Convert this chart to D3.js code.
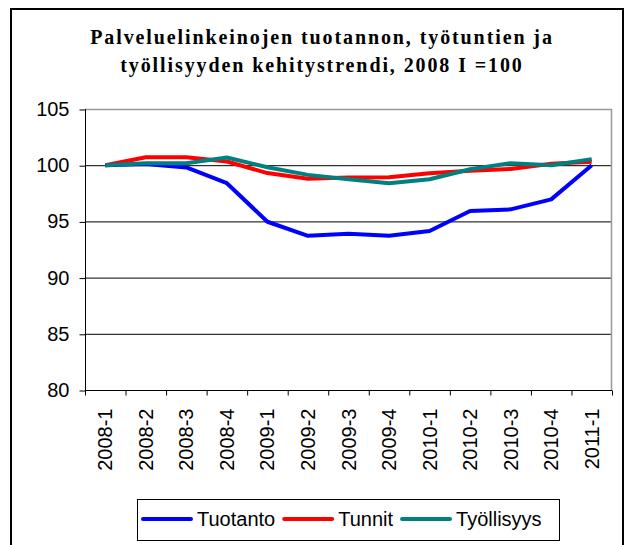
<!DOCTYPE html>
<html>
<head>
<meta charset="utf-8">
<script src="https://cdn.jsdelivr.net/npm/d3@7"></script>
<style>
  html, body { margin: 0; padding: 0; background: #fff; }
  svg { display: block; }
</style>
</head>
<body>
<svg id="chart"></svg>
<script>
// DATOS
const quarters = ["2008-1", "2008-2", "2008-3", "2008-4", "2009-1", "2009-2", "2009-3",
  "2009-4", "2010-1", "2010-2", "2010-3", "2010-4", "2011-1"];
const tuotanto = [100, 100.1, 99.8, 98.4, 94.97, 93.72, 93.9, 93.72, 94.14, 95.92, 96.07, 96.96, 100];
const tunnit = [100, 100.7, 100.7, 100.33, 99.3, 98.8, 98.9, 98.93, 99.29, 99.5, 99.67, 100.12, 100.3];
const tyollisyys = [100, 100.18, 100.18, 100.68, 99.82, 99.14, 98.75, 98.4, 98.75, 99.64, 100.18, 100, 100.54];
const seriesNames = ["Tuotanto", "Tunnit", "Työllisyys"];
const yTicks = [80, 85, 90, 95, 100, 105];
const titleLines = ["Palveluelinkeinojen tuotannon, työtuntien ja", "työllisyyden kehitystrendi, 2008 I =100"];

const colors = ["#0000ff", "#ff0000", "#008080"];
const series = [tuotanto, tunnit, tyollisyys];

// MEDIDAS
const width = 629;
const height = 545;
const plot = { left: 85, right: 612, top: 109, bottom: 390 };
const fontSans = "'Liberation Sans', Arial, sans-serif";

const svg = d3.select("#chart")
  .attr("width", width)
  .attr("height", height);

svg.append("rect")
  .attr("width", width).attr("height", height)
  .attr("fill", "#fff");

// marco exterior
svg.append("rect")
  .attr("x", 11).attr("y", 9)
  .attr("width", 612).attr("height", 560)
  .attr("fill", "none")
  .attr("stroke", "#000")
  .attr("stroke-width", 2);

// TITULO
svg.append("g")
  .selectAll("text")
  .data(titleLines)
  .join("text")
  .attr("x", 322)
  .attr("y", (d, i) => 44 + i * 28)
  .attr("text-anchor", "middle")
  .attr("font-family", "'Liberation Serif', 'Times New Roman', serif")
  .attr("font-weight", "bold")
  .attr("font-size", 20)
  .attr("letter-spacing", "1.9px")
  .text(d => d);

// ESCALAS
const x = d3.scaleBand()
  .domain(quarters)
  .range([plot.left, plot.right]);

const y = d3.scaleLinear()
  .domain([80, 105])
  .range([plot.bottom, plot.top]);

// rejilla
svg.append("g")
  .selectAll("line")
  .data(yTicks.filter(t => t < 105))
  .join("line")
  .attr("x1", plot.left).attr("x2", plot.right)
  .attr("y1", d => y(d) + 0.5).attr("y2", d => y(d) + 0.5)
  .attr("stroke", "#000");

// borde gris arriba y derecha
svg.append("path")
  .attr("d", `M${plot.left},${y(105) + 0.5}H${plot.right - 0.5}V${plot.bottom}`)
  .attr("fill", "none")
  .attr("stroke", "#999")
  .attr("stroke-width", 1.5);

// EJE Y
const yAxis = svg.append("g")
  .attr("transform", `translate(${plot.left + 0.5},0)`)
  .call(d3.axisLeft(y).tickValues(yTicks).tickSize(6).tickPadding(10));
yAxis.select(".domain").attr("d", `M0,${y(105)}V${plot.bottom + 5}`);
yAxis.selectAll(".tick line").attr("transform", "translate(0,0.5)");
yAxis.selectAll("text")
  .attr("font-family", fontSans)
  .attr("font-size", 20)
  .attr("fill", "#000");

// EJE X
const xg = svg.append("g")
  .attr("transform", `translate(0,${plot.bottom + 0.5})`);
xg.append("line")
  .attr("x1", plot.left).attr("x2", plot.right)
  .attr("stroke", "#000");
xg.selectAll(".xtick")
  .data(quarters.concat(["end"]))
  .join("line")
  .attr("class", "xtick")
  .attr("x1", (d, i) => (i < quarters.length ? x(d) : plot.right) + 0.5)
  .attr("x2", (d, i) => (i < quarters.length ? x(d) : plot.right) + 0.5)
  .attr("y1", 0).attr("y2", 5)
  .attr("stroke", "#000");
xg.selectAll(".xlabel")
  .data(quarters)
  .join("text")
  .attr("class", "xlabel")
  .attr("transform", d => `translate(${x(d) + x.bandwidth() / 2},${18}) rotate(-90)`)
  .attr("text-anchor", "end")
  .attr("dy", "0.35em")
  .attr("font-family", fontSans)
  .attr("font-size", 20)
  .text(d => d);

// LINEAS
const line = d3.line()
  .x((d, i) => x(quarters[i]) + x.bandwidth() / 2)
  .y(d => y(d));

svg.append("g")
  .selectAll("path")
  .data(series)
  .join("path")
  .attr("d", line)
  .attr("fill", "none")
  .attr("stroke", (d, i) => colors[i])
  .attr("stroke-width", 4)
  .attr("stroke-linejoin", "round");

// LEYENDA
const legend = svg.append("g");
legend.append("rect")
  .attr("x", 137.5).attr("y", 499.5)
  .attr("width", 422).attr("height", 41)
  .attr("fill", "#fff")
  .attr("stroke", "#000");

let lx = 143;
seriesNames.forEach((name, i) => {
  legend.append("line")
    .attr("x1", lx).attr("x2", lx + 48)
    .attr("y1", 519).attr("y2", 519)
    .attr("stroke", colors[i])
    .attr("stroke-width", 4)
    .attr("stroke-linecap", "round");
  const t = legend.append("text")
    .attr("x", lx + 54)
    .attr("y", 526)
    .attr("font-family", fontSans)
    .attr("font-size", 20)
    .text(name);
  lx += 54 + t.node().getComputedTextLength() + 9;
});
</script>
</body>
</html>
